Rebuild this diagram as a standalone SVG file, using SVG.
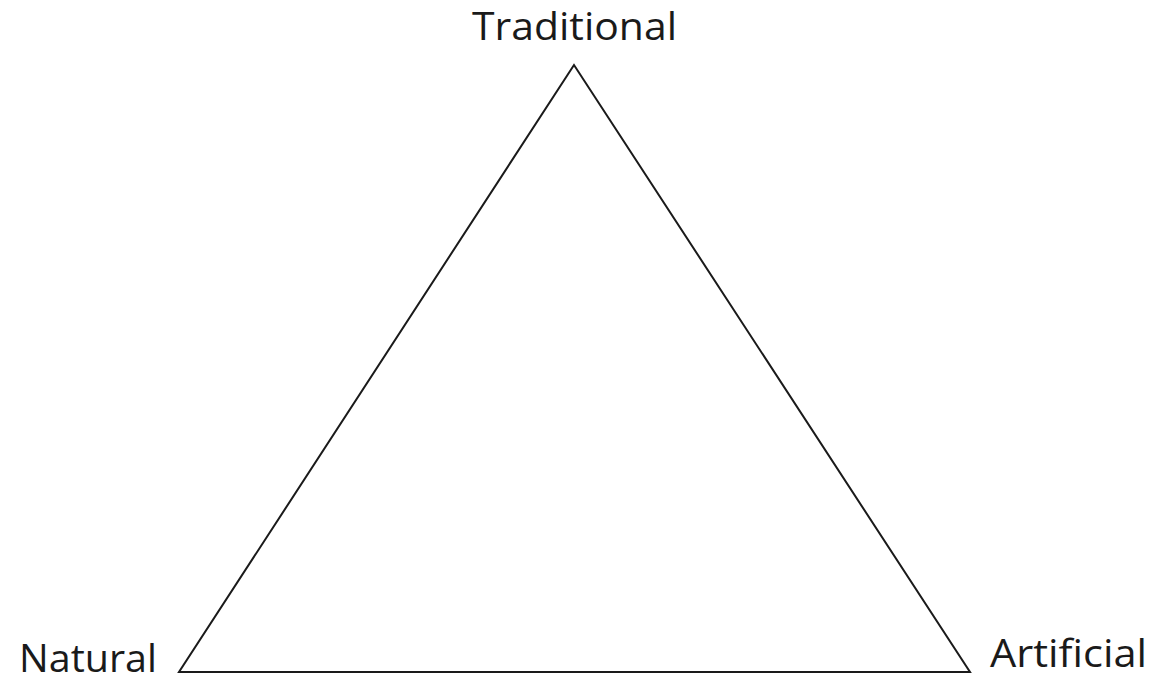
<svg xmlns="http://www.w3.org/2000/svg" width="1157" height="677" viewBox="0 0 1157 677">
<style>
.lbl{font-family:"Open Sans","Noto Sans","Liberation Sans",sans-serif;font-size:38px;fill:#1a1a1a}
.edge{fill:none;stroke:#1a1a1a;stroke-width:2;stroke-linejoin:miter}
</style>
<rect width="1157" height="677" fill="#ffffff"/>
<g id="connectors">
<path class="edge" d="M574,65 L179,672 L970,672 Z"/>
</g>
<g id="node-traditional"><text class="lbl" x="472" y="40" textLength="205" lengthAdjust="spacingAndGlyphs">Traditional</text></g>
<g id="node-natural"><text class="lbl" x="19" y="672" textLength="138" lengthAdjust="spacingAndGlyphs">Natural</text></g>
<g id="node-artificial"><text class="lbl" x="990" y="667" textLength="157" lengthAdjust="spacingAndGlyphs">Artificial</text></g>
</svg>
